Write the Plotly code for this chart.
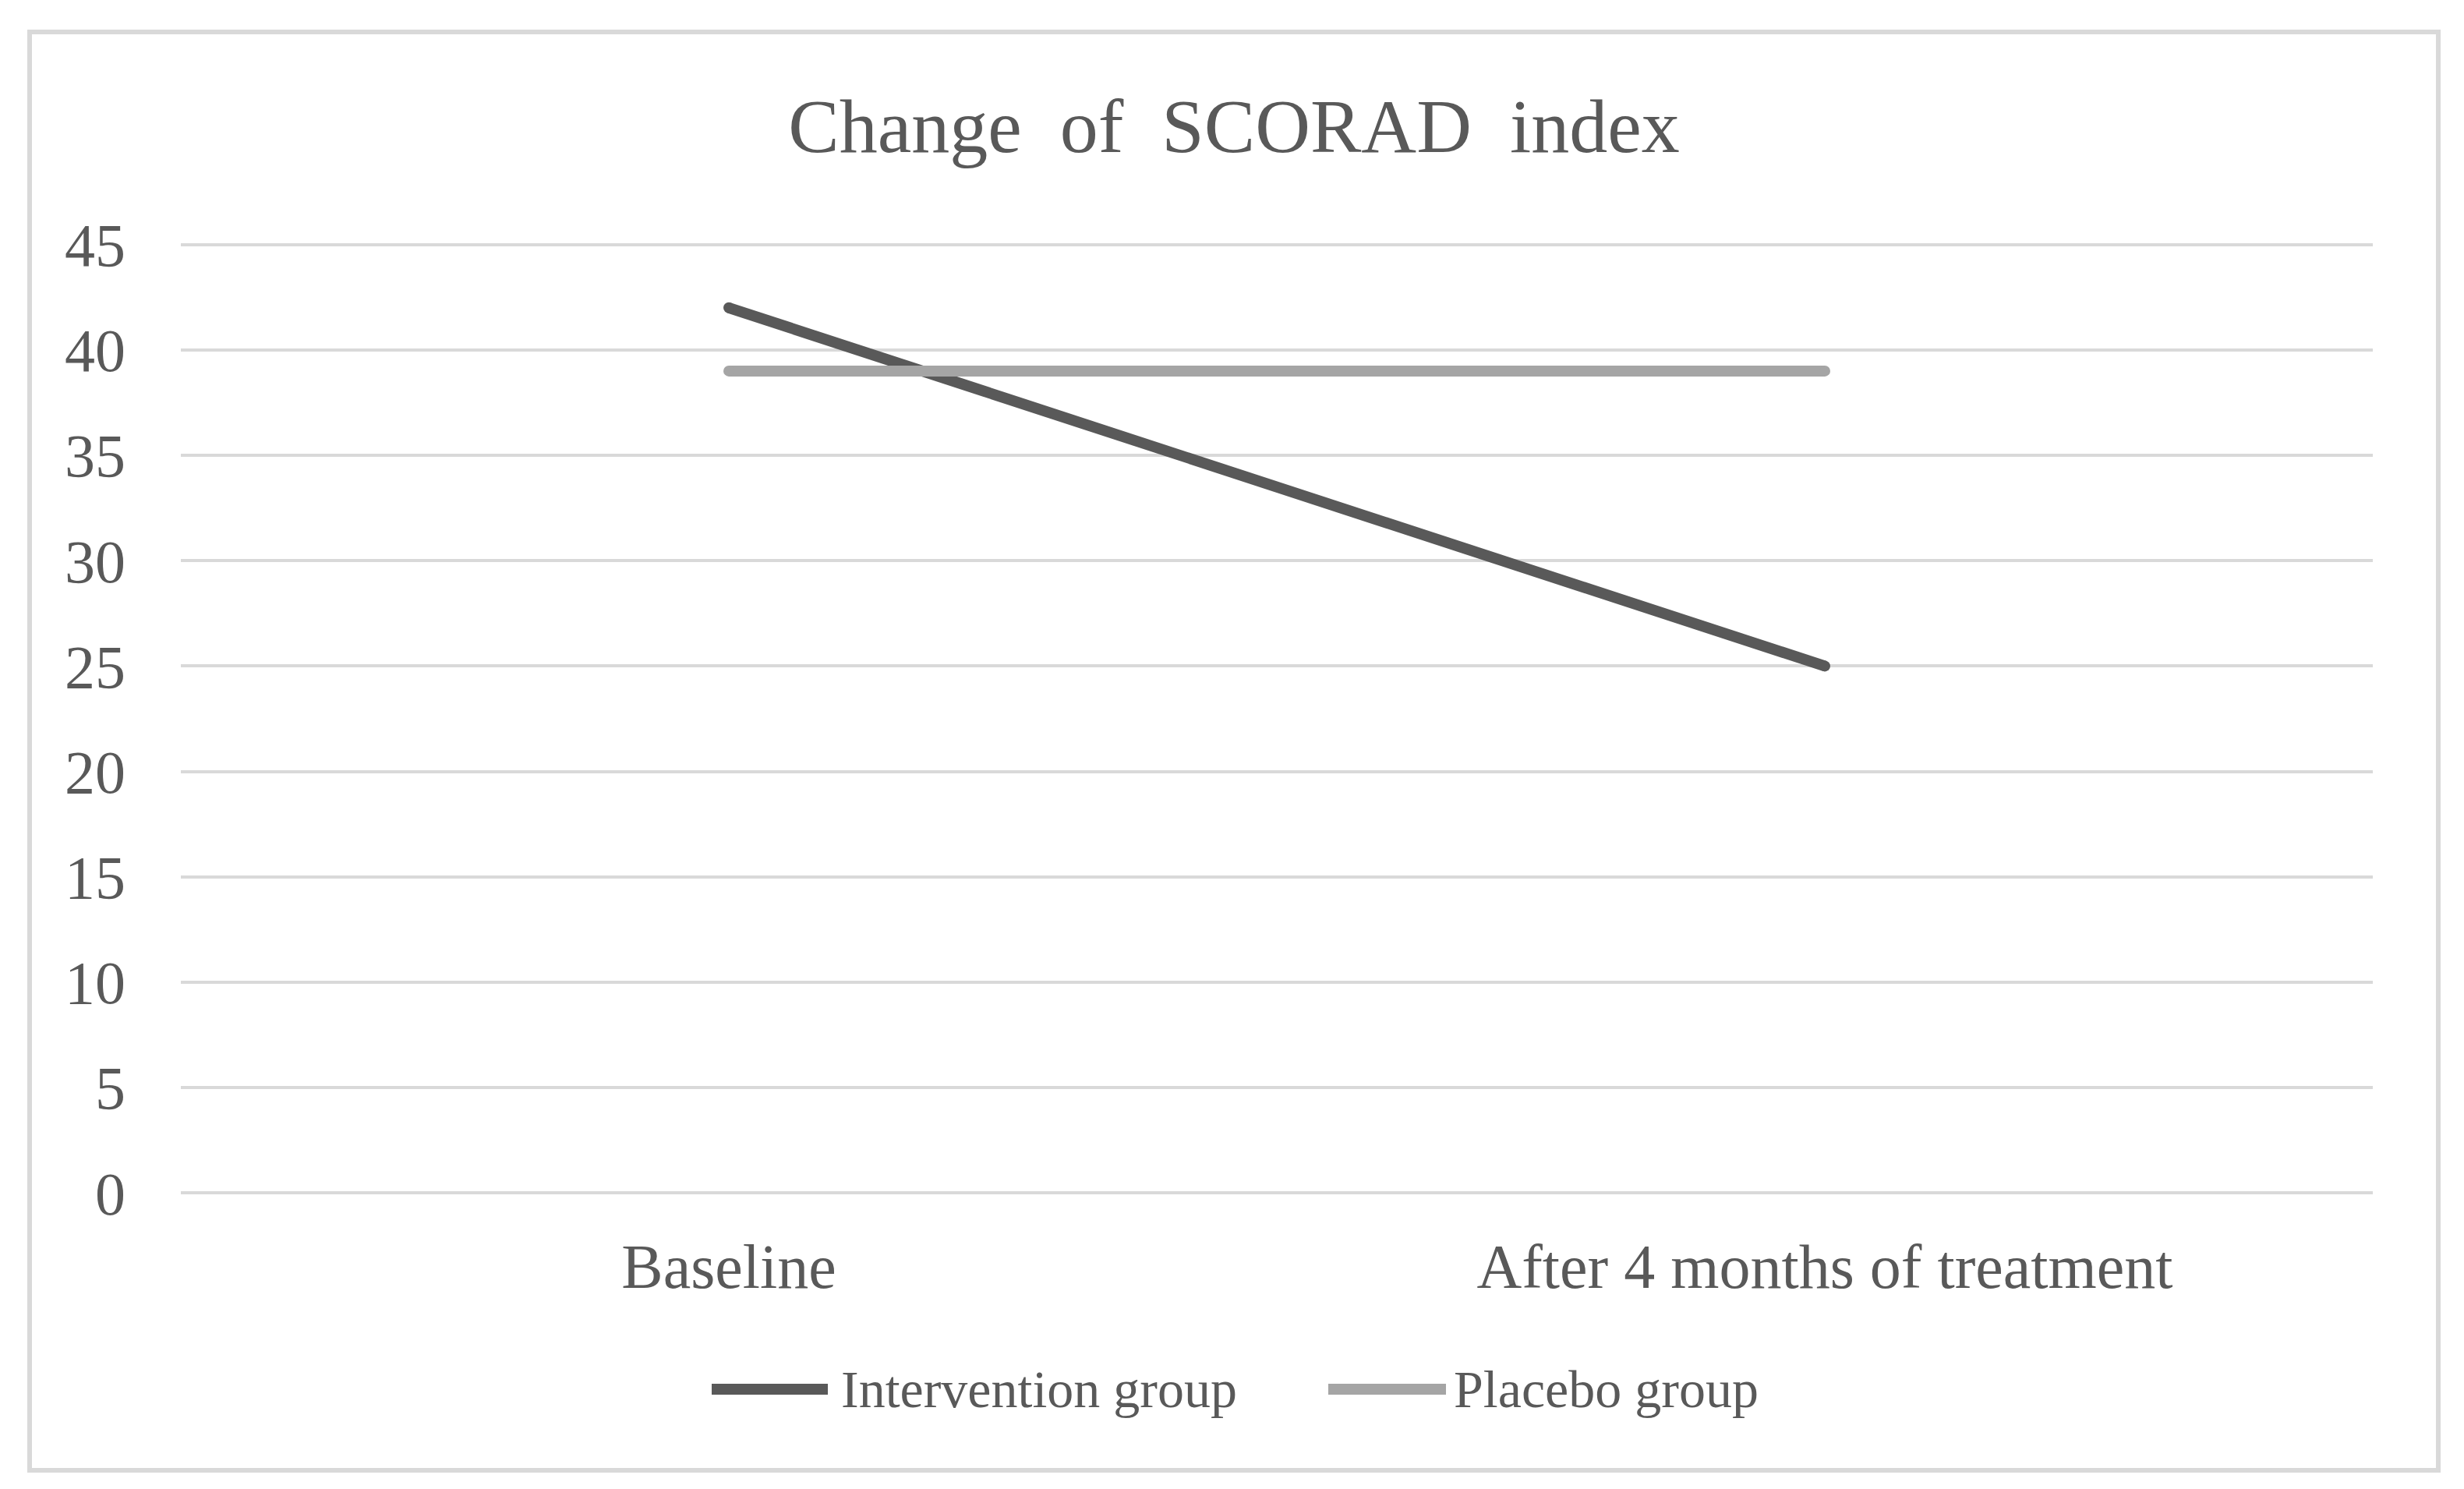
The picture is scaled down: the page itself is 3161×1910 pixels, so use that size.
import plotly.graph_objects as go

categories = ["Baseline", "After 4 months of treatment"]
series_names = ["Intervention group", "Placebo group"]
intervention = [42, 25]
placebo = [39, 39]
y_ticks = [0, 5, 10, 15, 20, 25, 30, 35, 40, 45]
title_text = "Change\u00a0 of\u00a0 SCORAD\u00a0 index"

colors = ["#595959", "#A5A5A5"]
widths = [14, 14]
FONT = "Liberation Serif, Times New Roman, serif"
TXT = "#595959"

W, H = 3161, 1910
L, R, T, B = 232, 3161 - 3044, 311, 1910 - 1533
pw, ph = W - L - R, H - T - B

def px(x):
    return (x - L) / pw

def py(y):
    return (H - B - y) / ph

fig = go.Figure()
for name, vals, col, lw in zip(series_names, [intervention, placebo], colors, widths):
    fig.add_trace(go.Scatter(x=categories, y=vals, mode="lines+markers", name=name,
                             line=dict(color=col, width=lw),
                             marker=dict(color=col, size=lw, line=dict(width=0)),
                             showlegend=False))

# custom legend (long line symbols like the original)
legend_pos = [(913, 1062, 1077), (1704, 1855, 1863)]
ly = 1782
for (x0, x1, xt), name, col in zip(legend_pos, series_names, colors):
    fig.add_shape(type="line", xref="paper", yref="paper",
                  x0=px(x0), x1=px(x1), y0=py(ly), y1=py(ly),
                  line=dict(color=col, width=14))
    fig.add_annotation(xref="paper", yref="paper", x=px(xt), y=py(ly),
                       text=name, showarrow=False, xanchor="left", yanchor="middle",
                       font=dict(family=FONT, size=68, color=TXT))

# outer chart border
fig.add_shape(type="rect", xref="paper", yref="paper",
              x0=px(38), x1=px(3128), y0=py(1886), y1=py(41),
              line=dict(color="#D9D9D9", width=6), layer="below")

fig.update_layout(
    width=W, height=H,
    margin=dict(l=L, r=R, t=T, b=B, pad=0),
    paper_bgcolor="white", plot_bgcolor="white",
    title=dict(text=title_text, x=1583 / W, xref="container", xanchor="center",
               y=1 - 161 / H, yref="container", yanchor="middle",
               font=dict(family=FONT, size=98, color=TXT)),
    showlegend=False,
    xaxis=dict(type="category", range=[-0.5, 1.5], showgrid=False, showline=False,
               zeroline=False, ticks="", tickfont=dict(family=FONT, size=80, color=TXT),
               ticklabelstandoff=38),
    yaxis=dict(range=[-0.1, 45.1], tickvals=y_ticks, showgrid=True,
               gridcolor="#D9D9D9", gridwidth=4, zeroline=False, showline=False,
               ticks="", tickfont=dict(family=FONT, size=78, color=TXT),
               ticklabelstandoff=70),
)

fig.write_html("out.html", config={"displayModeBar": False},
               post_script="document.body.style.margin='0';document.body.style.overflow='hidden';")
